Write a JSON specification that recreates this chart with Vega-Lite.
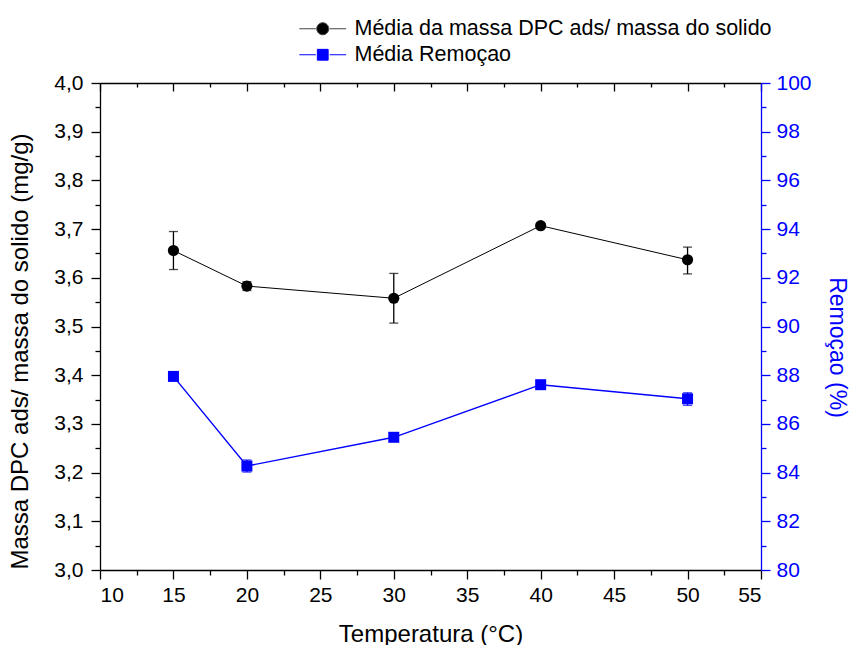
{
  "$schema": "https://vega.github.io/schema/vega-lite/v6.json",
  "width": 661,
  "height": 487,
  "autosize": "none",
  "padding": {"left": 100, "top": 83, "right": 91, "bottom": 75},
  "background": "white",
  "config": {
    "view": {"stroke": null},
    "font": "Liberation Sans",
    "axis": {
      "grid": false,
      "labelFont": "Liberation Sans",
      "labelFontSize": 21,
      "labelColor": "black",
      "titleFont": "Liberation Sans",
      "titleFontSize": 24,
      "titleFontWeight": "normal",
      "titleColor": "black",
      "domainColor": "black",
      "domainWidth": 1.3,
      "tickColor": "black",
      "tickWidth": 1.3
    }
  },
  "data": {
    "values": [
      {"t": 15, "m": 3.656, "m_lo": 3.617, "m_hi": 3.695, "r": 87.95, "r_lo": 87.87, "r_hi": 88.03},
      {"t": 20, "m": 3.583, "m_lo": 3.574, "m_hi": 3.592, "r": 84.27, "r_lo": 84.02, "r_hi": 84.52},
      {"t": 30, "m": 3.558, "m_lo": 3.507, "m_hi": 3.609, "r": 85.45, "r_lo": 85.37, "r_hi": 85.53},
      {"t": 40, "m": 3.707, "m_lo": 3.702, "m_hi": 3.712, "r": 87.61, "r_lo": 87.53, "r_hi": 87.69},
      {"t": 50, "m": 3.637, "m_lo": 3.608, "m_hi": 3.663, "r": 87.03, "r_lo": 86.76, "r_hi": 87.28}
    ]
  },
  "layer": [
    {
      "encoding": {
        "x": {
          "field": "t", "type": "quantitative",
          "scale": {"domain": [10, 55], "nice": false, "zero": false},
          "axis": {
            "orient": "bottom",
            "values": [10, 15, 20, 25, 30, 35, 40, 45, 50, 55],
            "tickSize": 9,
            "labelPadding": 5,
            "title": "Temperatura (°C)",
            "titleY": 52
          }
        }
      },
      "layer": [
        {
          "mark": {"type": "rule", "color": "black", "strokeWidth": 1.3},
          "encoding": {
            "y": {"field": "m_lo", "type": "quantitative", "scale": {"domain": [3, 4], "nice": false, "zero": false},
              "axis": {
                "orient": "left",
                "values": [3.0, 3.1, 3.2, 3.3, 3.4, 3.5, 3.6, 3.7, 3.8, 3.9, 4.0],
                "format": ".1f",
                "labelExpr": "replace(datum.label, '.', ',')",
                "tickSize": 9,
                "labelPadding": 8,
                "title": "Massa DPC ads/ massa do solido (mg/g)",
                "titleX": -68,
                "titleY": 268
              }},
            "y2": {"field": "m_hi"}
          }
        },
        {
          "mark": {"type": "tick", "orient": "horizontal", "color": "black", "size": 9, "thickness": 1.3},
          "encoding": {"y": {"field": "m_lo", "type": "quantitative"}}
        },
        {
          "mark": {"type": "tick", "orient": "horizontal", "color": "black", "size": 9, "thickness": 1.3},
          "encoding": {"y": {"field": "m_hi", "type": "quantitative"}}
        },
        {
          "mark": {"type": "line", "color": "black", "strokeWidth": 1},
          "encoding": {"y": {"field": "m", "type": "quantitative"}}
        },
        {
          "mark": {"type": "point", "shape": "circle", "filled": true, "color": "black", "size": 125, "opacity": 1},
          "encoding": {"y": {"field": "m", "type": "quantitative"}}
        }
      ]
    },
    {
      "encoding": {
        "x": {
          "field": "t", "type": "quantitative",
          "scale": {"domain": [10, 55], "nice": false, "zero": false},
          "axis": null
        }
      },
      "layer": [
        {
          "mark": {"type": "rule", "color": "#0000FF", "strokeWidth": 1.3},
          "encoding": {
            "y": {"field": "r_lo", "type": "quantitative", "scale": {"domain": [80, 100], "nice": false, "zero": false},
              "axis": {
                "orient": "right",
                "values": [80, 82, 84, 86, 88, 90, 92, 94, 96, 98, 100],
                "tickSize": 9,
                "labelPadding": 6,
                "domainColor": "#0000FF",
                "tickColor": "#0000FF",
                "labelColor": "#0000FF",
                "titleColor": "#0000FF",
                "titleFontSize": 23,
                "title": "Remoçao (%)",
                "titleX": 63,
                "titleY": 264
              }},
            "y2": {"field": "r_hi"}
          }
        },
        {
          "mark": {"type": "tick", "orient": "horizontal", "color": "#0000FF", "size": 9, "thickness": 1.3},
          "encoding": {"y": {"field": "r_lo", "type": "quantitative"}}
        },
        {
          "mark": {"type": "tick", "orient": "horizontal", "color": "#0000FF", "size": 9, "thickness": 1.3},
          "encoding": {"y": {"field": "r_hi", "type": "quantitative"}}
        },
        {
          "mark": {"type": "line", "color": "#0000FF", "strokeWidth": 1.4},
          "encoding": {"y": {"field": "r", "type": "quantitative"}}
        },
        {
          "mark": {"type": "point", "shape": "square", "filled": true, "color": "#0000FF", "size": 121, "opacity": 1},
          "encoding": {"y": {"field": "r", "type": "quantitative"}}
        }
      ]
    },
    {
      "mark": {"type": "point", "opacity": 0},
      "encoding": {
        "x": {
          "field": "t", "type": "quantitative",
          "scale": {"domain": [10, 55], "nice": false, "zero": false},
          "axis": {"orient": "bottom", "values": [12.5, 17.5, 22.5, 27.5, 32.5, 37.5, 42.5, 47.5, 52.5], "labels": false, "domain": false, "tickSize": 5, "title": null}
        },
        "y": {
          "field": "m", "type": "quantitative",
          "scale": {"domain": [3, 4], "nice": false, "zero": false},
          "axis": {"orient": "left", "values": [3.05, 3.15, 3.25, 3.35, 3.45, 3.55, 3.65, 3.75, 3.85, 3.95], "labels": false, "domain": false, "tickSize": 5, "title": null}
        }
      }
    },
    {
      "mark": {"type": "point", "opacity": 0},
      "encoding": {
        "x": {
          "field": "t", "type": "quantitative",
          "scale": {"domain": [10, 55], "nice": false, "zero": false},
          "axis": {"orient": "top", "values": [10, 15, 20, 25, 30, 35, 40, 45, 50, 55], "labels": false, "tickSize": -8, "title": null}
        },
        "y": {
          "field": "r", "type": "quantitative",
          "scale": {"domain": [80, 100], "nice": false, "zero": false},
          "axis": {"orient": "right", "values": [81, 83, 85, 87, 89, 91, 93, 95, 97, 99], "labels": false, "domain": false, "tickSize": 5, "tickColor": "#0000FF", "title": null}
        }
      }
    },
    {
      "mark": {"type": "point", "opacity": 0},
      "encoding": {
        "x": {
          "field": "t", "type": "quantitative",
          "scale": {"domain": [10, 55], "nice": false, "zero": false},
          "axis": {"orient": "top", "values": [12.5, 17.5, 22.5, 27.5, 32.5, 37.5, 42.5, 47.5, 52.5], "labels": false, "domain": false, "tickSize": -4, "title": null}
        }
      }
    },
    {
      "transform": [{"filter": "datum.t > 100"}],
      "mark": {"type": "point", "filled": true, "opacity": 1},
      "encoding": {
        "fill": {
          "field": "serie", "type": "nominal",
          "scale": {"domain": ["Média da massa DPC ads/ massa do solido", "Média Remoçao"], "range": ["black", "#0000FF"]},
          "legend": {
            "title": null,
            "orient": "none",
            "legendX": 212,
            "legendY": -65,
            "padding": 0,
            "rowPadding": 3,
            "labelFont": "Liberation Sans",
            "labelFontSize": 21.5,
            "labelColor": "black",
            "labelLimit": 0,
            "labelOffset": 21,
            "symbolStrokeWidth": 1,
            "symbolOpacity": 1,
            "symbolSize": 144
          }
        },
        "stroke": {
          "field": "serie", "type": "nominal",
          "scale": {"domain": ["Média da massa DPC ads/ massa do solido", "Média Remoçao"], "range": ["#444444", "#0000FF"]}
        },
        "shape": {
          "field": "serie", "type": "nominal",
          "scale": {
            "domain": ["Média da massa DPC ads/ massa do solido", "Média Remoçao"],
            "range": [
              "M-3.9,0H-1.15M1.15,0H3.9M-1,0A1,1,0,1,1,1,0A1,1,0,1,1,-1,0Z",
              "M-3.9,0H-1.15M1.15,0H3.9M-0.9,-0.9H0.9V0.9H-0.9Z"
            ]
          }
        }
      }
    }
  ],
  "resolve": {"scale": {"x": "independent", "y": "independent"}}
}
